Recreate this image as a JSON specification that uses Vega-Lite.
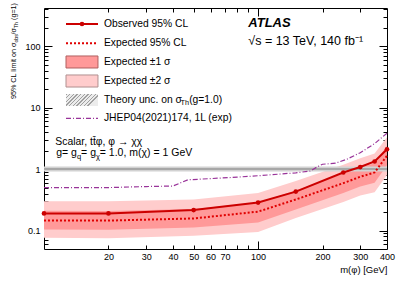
{
  "$schema": "https://vega.github.io/schema/vega-lite/v6.json",
  "width": 343,
  "height": 241,
  "autosize": {"type": "none"},
  "padding": {"left": 44, "top": 8, "right": 12, "bottom": 37},
  "background": "white",
  "datasets": {
    "bands": [
      {"m": 10, "exp": 0.146, "lo1": 0.104, "hi1": 0.209, "lo2": 0.076, "hi2": 0.30},
      {"m": 20, "exp": 0.145, "lo1": 0.103, "hi1": 0.208, "lo2": 0.075, "hi2": 0.30},
      {"m": 50, "exp": 0.157, "lo1": 0.112, "hi1": 0.225, "lo2": 0.082, "hi2": 0.32},
      {"m": 100, "exp": 0.203, "lo1": 0.135, "hi1": 0.285, "lo2": 0.095, "hi2": 0.41},
      {"m": 150, "exp": 0.32, "lo1": 0.22, "hi1": 0.45, "lo2": 0.16, "hi2": 0.64},
      {"m": 250, "exp": 0.59, "lo1": 0.41, "hi1": 0.84, "lo2": 0.29, "hi2": 1.18},
      {"m": 300, "exp": 0.75, "lo1": 0.52, "hi1": 1.06, "lo2": 0.37, "hi2": 1.5},
      {"m": 350, "exp": 0.88, "lo1": 0.6, "hi1": 1.25, "lo2": 0.42, "hi2": 1.8},
      {"m": 400, "exp": 1.65, "lo1": 1.15, "hi1": 2.4, "lo2": 0.8, "hi2": 3.3}
    ],
    "observed": [
      {"m": 10, "v": 0.19}, {"m": 20, "v": 0.19}, {"m": 50, "v": 0.215},
      {"m": 100, "v": 0.285}, {"m": 150, "v": 0.43}, {"m": 250, "v": 0.88},
      {"m": 300, "v": 1.08}, {"m": 350, "v": 1.33}, {"m": 400, "v": 2.1}
    ],
    "jhep": [
      {"m": 10, "v": 0.5}, {"m": 20, "v": 0.5}, {"m": 30, "v": 0.52}, {"m": 40, "v": 0.53},
      {"m": 47, "v": 0.67}, {"m": 60, "v": 0.7}, {"m": 80, "v": 0.74}, {"m": 100, "v": 0.78},
      {"m": 150, "v": 0.87}, {"m": 175, "v": 0.93}, {"m": 190, "v": 1.1}, {"m": 200, "v": 1.2},
      {"m": 230, "v": 1.25}, {"m": 260, "v": 1.45}, {"m": 300, "v": 1.85}, {"m": 350, "v": 2.6},
      {"m": 400, "v": 3.85}
    ],
    "theory": [
      {"m": 10, "lo": 0.91, "hi": 1.1, "c": 1},
      {"m": 400, "lo": 0.91, "hi": 1.1, "c": 1}
    ],
    "one": [{}]
  },
  "resolve": {"axis": {"x": "independent", "y": "independent"}},
  "layer": [
    {
      "data": {"name": "bands"},
      "mark": {"type": "area", "color": "#ffcccc", "opacity": 1},
      "encoding": {
        "x": {"field": "m", "type": "quantitative", "scale": {"type": "log", "domain": [10, 400], "nice": false},
          "axis": {"orient": "bottom", "values": [20, 30, 40, 50, 60, 70, 100, 200, 300, 400], "ticks": false, "domain": false, "grid": false,
            "labelPadding": 3, "labelFlush": false, "labelOverlap": false, "format": "~g",
            "title": "m(φ) [GeV]", "titleAnchor": "end", "titleFont": "Liberation Sans", "titleFontSize": 9.5, "titleFontWeight": "normal", "titleColor": "black", "titlePadding": 3}},
        "y": {"field": "lo2", "type": "quantitative", "scale": {"type": "log", "domain": [0.05, 420], "nice": false},
          "axis": {"orient": "left", "values": [0.1, 1, 10, 100], "ticks": false, "domain": false, "grid": false, "labelPadding": 4, "format": "~g", "labelOverlap": false, "labelFlush": false, "title": null}},
        "y2": {"field": "hi2"}
      }
    },
    {
      "data": {"name": "bands"},
      "mark": {"type": "area", "color": "#ff9999", "opacity": 1},
      "encoding": {
        "x": {"field": "m", "type": "quantitative", "scale": {"type": "log", "domain": [10, 400], "nice": false},
          "axis": {"orient": "bottom", "values": [100], "labels": false, "domain": false, "grid": false, "tickSize": 8, "offset": -8, "title": null}},
        "y": {"field": "lo1", "type": "quantitative", "scale": {"type": "log", "domain": [0.05, 420], "nice": false},
          "axis": {"orient": "left", "values": [0.1, 1, 10, 100], "labels": false, "domain": false, "grid": false, "tickSize": 8, "offset": -8, "title": null}},
        "y2": {"field": "hi1"}
      }
    },
    {
      "data": {"name": "theory"},
      "mark": {"type": "area", "color": "#d2d2d2", "opacity": 1},
      "encoding": {
        "x": {"field": "m", "type": "quantitative", "scale": {"type": "log", "domain": [10, 400], "nice": false},
          "axis": {"orient": "bottom", "values": [20, 30, 40, 50, 60, 70, 80, 90, 200, 300], "labels": false, "domain": false, "grid": false, "tickSize": 4, "offset": -4, "title": null}},
        "y": {"field": "lo", "type": "quantitative", "scale": {"type": "log", "domain": [0.05, 420], "nice": false},
          "axis": {"orient": "left", "values": [0.06, 0.07, 0.08, 0.09, 0.2, 0.3, 0.4, 0.5, 0.6, 0.7, 0.8, 0.9, 2, 3, 4, 5, 6, 7, 8, 9, 20, 30, 40, 50, 60, 70, 80, 90, 200, 300, 400], "labels": false, "domain": false, "grid": false, "tickSize": 4, "offset": -4, "title": null}},
        "y2": {"field": "hi"}
      }
    },
    {
      "data": {"name": "theory"},
      "mark": {"type": "line", "color": "#999999", "strokeWidth": 1.5},
      "encoding": {
        "x": {"field": "m", "type": "quantitative", "scale": {"type": "log", "domain": [10, 400], "nice": false},
          "axis": {"orient": "top", "values": [100], "labels": false, "domain": false, "grid": false, "tickSize": 8, "offset": -8, "title": null}},
        "y": {"field": "c", "type": "quantitative", "scale": {"type": "log", "domain": [0.05, 420], "nice": false},
          "axis": {"orient": "right", "values": [0.1, 1, 10, 100], "labels": false, "domain": false, "grid": false, "tickSize": 8, "offset": -8, "title": null}}
      }
    },
    {
      "data": {"name": "jhep"},
      "mark": {"type": "line", "color": "#993399", "strokeWidth": 1.2, "strokeDash": [5, 2, 1, 2]},
      "encoding": {
        "x": {"field": "m", "type": "quantitative", "scale": {"type": "log", "domain": [10, 400], "nice": false},
          "axis": {"orient": "top", "values": [20, 30, 40, 50, 60, 70, 80, 90, 200, 300], "labels": false, "domain": false, "grid": false, "tickSize": 4, "offset": -4, "title": null}},
        "y": {"field": "v", "type": "quantitative", "scale": {"type": "log", "domain": [0.05, 420], "nice": false},
          "axis": {"orient": "right", "values": [0.06, 0.07, 0.08, 0.09, 0.2, 0.3, 0.4, 0.5, 0.6, 0.7, 0.8, 0.9, 2, 3, 4, 5, 6, 7, 8, 9, 20, 30, 40, 50, 60, 70, 80, 90, 200, 300, 400], "labels": false, "domain": false, "grid": false, "tickSize": 4, "offset": -4, "title": null}}
      }
    },
    {
      "data": {"name": "bands"},
      "mark": {"type": "line", "color": "#e00000", "strokeWidth": 2, "strokeDash": [2, 2]},
      "encoding": {
        "x": {"field": "m", "type": "quantitative", "scale": {"type": "log", "domain": [10, 400], "nice": false}, "axis": null},
        "y": {"field": "exp", "type": "quantitative", "scale": {"type": "log", "domain": [0.05, 420], "nice": false}, "axis": null}
      }
    },
    {
      "data": {"name": "observed"},
      "mark": {"type": "line", "color": "#cc0000", "strokeWidth": 2},
      "encoding": {
        "x": {"field": "m", "type": "quantitative", "scale": {"type": "log", "domain": [10, 400], "nice": false}, "axis": null},
        "y": {"field": "v", "type": "quantitative", "scale": {"type": "log", "domain": [0.05, 420], "nice": false}, "axis": null}
      }
    },
    {
      "data": {"name": "observed"},
      "mark": {"type": "point", "color": "#cc0000", "filled": true, "size": 22, "opacity": 1, "shape": "circle"},
      "encoding": {
        "x": {"field": "m", "type": "quantitative", "scale": {"type": "log", "domain": [10, 400], "nice": false}, "axis": null},
        "y": {"field": "v", "type": "quantitative", "scale": {"type": "log", "domain": [0.05, 420], "nice": false}, "axis": null}
      }
    },
    {
      "data": {"name": "one"},
      "mark": {"type": "rule", "color": "#cc0000", "strokeWidth": 2},
      "encoding": {"x": {"datum": 12.67, "type": "quantitative", "axis": null}, "x2": {"datum": 17.87}, "y": {"datum": 230.5, "type": "quantitative", "axis": null}}
    },
    {
      "data": {"name": "one"},
      "mark": {"type": "point", "color": "#cc0000", "filled": true, "size": 22, "opacity": 1, "shape": "circle"},
      "encoding": {"x": {"datum": 15.05, "type": "quantitative", "axis": null}, "y": {"datum": 230.5, "type": "quantitative", "axis": null}}
    },
    {
      "data": {"name": "one"},
      "mark": {"type": "rule", "color": "#e00000", "strokeWidth": 2, "strokeDash": [2, 2]},
      "encoding": {"x": {"datum": 12.67, "type": "quantitative", "axis": null}, "x2": {"datum": 17.87}, "y": {"datum": 111.8, "type": "quantitative", "axis": null}}
    },
    {
      "data": {"name": "one"},
      "mark": {"type": "rect", "fill": "#ff9999", "stroke": "#b06060", "strokeWidth": 1},
      "encoding": {"x": {"datum": 12.67, "type": "quantitative", "axis": null}, "x2": {"datum": 17.87}, "y": {"datum": 69.5, "type": "quantitative", "axis": null}, "y2": {"datum": 44.3}}
    },
    {
      "data": {"name": "one"},
      "mark": {"type": "rect", "fill": "#ffcccc", "stroke": "#b09090", "strokeWidth": 1},
      "encoding": {"x": {"datum": 12.67, "type": "quantitative", "axis": null}, "x2": {"datum": 17.87}, "y": {"datum": 34.1, "type": "quantitative", "axis": null}, "y2": {"datum": 21.7}}
    },
    {
      "data": {"name": "one"},
      "mark": {"type": "rect", "strokeWidth": 0,
        "fill": {"gradient": "linear", "x1": 0, "y1": 0, "x2": 1, "y2": 0.375,
          "stops": [
            {"offset": 0, "color": "#a0a0a0"}, {"offset": 0.035, "color": "#a0a0a0"}, {"offset": 0.035, "color": "#ececec"}, {"offset": 0.1, "color": "#ececec"},
            {"offset": 0.1, "color": "#a0a0a0"}, {"offset": 0.135, "color": "#a0a0a0"}, {"offset": 0.135, "color": "#ececec"}, {"offset": 0.2, "color": "#ececec"},
            {"offset": 0.2, "color": "#a0a0a0"}, {"offset": 0.235, "color": "#a0a0a0"}, {"offset": 0.235, "color": "#ececec"}, {"offset": 0.3, "color": "#ececec"},
            {"offset": 0.3, "color": "#a0a0a0"}, {"offset": 0.335, "color": "#a0a0a0"}, {"offset": 0.335, "color": "#ececec"}, {"offset": 0.4, "color": "#ececec"},
            {"offset": 0.4, "color": "#a0a0a0"}, {"offset": 0.435, "color": "#a0a0a0"}, {"offset": 0.435, "color": "#ececec"}, {"offset": 0.5, "color": "#ececec"},
            {"offset": 0.5, "color": "#a0a0a0"}, {"offset": 0.535, "color": "#a0a0a0"}, {"offset": 0.535, "color": "#ececec"}, {"offset": 0.6, "color": "#ececec"},
            {"offset": 0.6, "color": "#a0a0a0"}, {"offset": 0.635, "color": "#a0a0a0"}, {"offset": 0.635, "color": "#ececec"}, {"offset": 0.7, "color": "#ececec"},
            {"offset": 0.7, "color": "#a0a0a0"}, {"offset": 0.735, "color": "#a0a0a0"}, {"offset": 0.735, "color": "#ececec"}, {"offset": 0.8, "color": "#ececec"},
            {"offset": 0.8, "color": "#a0a0a0"}, {"offset": 0.835, "color": "#a0a0a0"}, {"offset": 0.835, "color": "#ececec"}, {"offset": 0.9, "color": "#ececec"},
            {"offset": 0.9, "color": "#a0a0a0"}, {"offset": 0.935, "color": "#a0a0a0"}, {"offset": 0.935, "color": "#ececec"}, {"offset": 1, "color": "#ececec"}
          ]}},
      "encoding": {"x": {"datum": 12.67, "type": "quantitative", "axis": null}, "x2": {"datum": 17.87}, "y": {"datum": 16.7, "type": "quantitative", "axis": null}, "y2": {"datum": 10.65}}
    },
    {
      "data": {"name": "one"},
      "mark": {"type": "rule", "color": "#993399", "strokeWidth": 1.2, "strokeDash": [5, 2, 1, 2]},
      "encoding": {"x": {"datum": 12.67, "type": "quantitative", "axis": null}, "x2": {"datum": 17.87}, "y": {"datum": 6.72, "type": "quantitative", "axis": null}}
    },
    {
      "data": {"name": "one"},
      "mark": {"type": "text", "text": "Observed 95% CL", "fontSize": 10.3, "align": "left", "baseline": "middle", "color": "black"},
      "encoding": {"x": {"datum": 19.06, "type": "quantitative", "axis": null}, "y": {"datum": 230.5, "type": "quantitative", "axis": null}}
    },
    {
      "data": {"name": "one"},
      "mark": {"type": "text", "text": "Expected 95% CL", "fontSize": 10.3, "align": "left", "baseline": "middle", "color": "black"},
      "encoding": {"x": {"datum": 19.06, "type": "quantitative", "axis": null}, "y": {"datum": 111.8, "type": "quantitative", "axis": null}}
    },
    {
      "data": {"name": "one"},
      "mark": {"type": "text", "text": "Expected ±1 σ", "fontSize": 10.3, "align": "left", "baseline": "middle", "color": "black"},
      "encoding": {"x": {"datum": 19.06, "type": "quantitative", "axis": null}, "y": {"datum": 55.4, "type": "quantitative", "axis": null}}
    },
    {
      "data": {"name": "one"},
      "mark": {"type": "text", "text": "Expected ±2 σ", "fontSize": 10.3, "align": "left", "baseline": "middle", "color": "black"},
      "encoding": {"x": {"datum": 19.06, "type": "quantitative", "axis": null}, "y": {"datum": 27.2, "type": "quantitative", "axis": null}}
    },
    {
      "data": {"name": "one"},
      "mark": {"type": "text", "text": "Theory unc. on σ", "fontSize": 10.3, "align": "left", "baseline": "middle", "color": "black"},
      "encoding": {"x": {"datum": 19.06, "type": "quantitative", "axis": null}, "y": {"datum": 13.34, "type": "quantitative", "axis": null}}
    },
    {
      "data": {"name": "one"},
      "mark": {"type": "text", "text": "Th", "fontSize": 7.3, "align": "left", "baseline": "middle", "color": "black", "dx": 76.5, "dy": 3},
      "encoding": {"x": {"datum": 19.06, "type": "quantitative", "axis": null}, "y": {"datum": 13.34, "type": "quantitative", "axis": null}}
    },
    {
      "data": {"name": "one"},
      "mark": {"type": "text", "text": "(g=1.0)", "fontSize": 10.3, "align": "left", "baseline": "middle", "color": "black", "dx": 85.2},
      "encoding": {"x": {"datum": 19.06, "type": "quantitative", "axis": null}, "y": {"datum": 13.34, "type": "quantitative", "axis": null}}
    },
    {
      "data": {"name": "one"},
      "mark": {"type": "text", "text": "JHEP04(2021)174, 1L (exp)", "fontSize": 10.3, "align": "left", "baseline": "middle", "color": "black"},
      "encoding": {"x": {"datum": 19.06, "type": "quantitative", "axis": null}, "y": {"datum": 6.72, "type": "quantitative", "axis": null}}
    },
    {
      "data": {"name": "one"},
      "mark": {"type": "text", "text": "ATLAS", "fontSize": 13, "fontWeight": "bold", "fontStyle": "italic", "align": "left", "baseline": "alphabetic", "color": "black"},
      "encoding": {"x": {"datum": 90, "type": "quantitative", "axis": null}, "y": {"datum": 203, "type": "quantitative", "axis": null}}
    },
    {
      "data": {"name": "one"},
      "mark": {"type": "text", "text": "√s = 13 TeV, 140 fb⁻¹", "fontSize": 12.5, "align": "left", "baseline": "alphabetic", "color": "black"},
      "encoding": {"x": {"datum": 90, "type": "quantitative", "axis": null}, "y": {"datum": 103.5, "type": "quantitative", "axis": null}}
    },
    {
      "data": {"name": "one"},
      "mark": {"type": "text", "text": "Scalar, tt̄φ, φ → χχ", "fontSize": 10.4, "align": "left", "baseline": "alphabetic", "color": "black"},
      "encoding": {"x": {"datum": 11.3, "type": "quantitative", "axis": null}, "y": {"datum": 2.46, "type": "quantitative", "axis": null}}
    },
    {
      "data": {"name": "one"},
      "mark": {"type": "text", "text": "g= g", "fontSize": 10.5, "align": "left", "baseline": "alphabetic", "color": "black"},
      "encoding": {"x": {"datum": 11.4, "type": "quantitative", "axis": null}, "y": {"datum": 1.63, "type": "quantitative", "axis": null}}
    },
    {
      "data": {"name": "one"},
      "mark": {"type": "text", "text": "q", "fontSize": 7.5, "align": "left", "baseline": "alphabetic", "color": "black", "dx": 20.7, "dy": 2.5},
      "encoding": {"x": {"datum": 11.4, "type": "quantitative", "axis": null}, "y": {"datum": 1.63, "type": "quantitative", "axis": null}}
    },
    {
      "data": {"name": "one"},
      "mark": {"type": "text", "text": "= g", "fontSize": 10.5, "align": "left", "baseline": "alphabetic", "color": "black", "dx": 24.9},
      "encoding": {"x": {"datum": 11.4, "type": "quantitative", "axis": null}, "y": {"datum": 1.63, "type": "quantitative", "axis": null}}
    },
    {
      "data": {"name": "one"},
      "mark": {"type": "text", "text": "χ", "fontSize": 7.5, "align": "left", "baseline": "alphabetic", "color": "black", "dx": 39.8, "dy": 2.5},
      "encoding": {"x": {"datum": 11.4, "type": "quantitative", "axis": null}, "y": {"datum": 1.63, "type": "quantitative", "axis": null}}
    },
    {
      "data": {"name": "one"},
      "mark": {"type": "text", "text": "= 1.0, m(χ) = 1 GeV", "fontSize": 10.5, "align": "left", "baseline": "alphabetic", "color": "black", "dx": 43.6},
      "encoding": {"x": {"datum": 11.4, "type": "quantitative", "axis": null}, "y": {"datum": 1.63, "type": "quantitative", "axis": null}}
    },
    {
      "data": {"name": "one"},
      "mark": {"type": "text", "text": "(g=1)", "fontSize": 7.2, "angle": 270, "align": "right", "baseline": "alphabetic", "color": "black", "dx": 5, "dy": -28},
      "encoding": {"x": {"datum": 10, "type": "quantitative", "axis": null}, "y": {"datum": 420, "type": "quantitative", "axis": null}}
    },
    {
      "data": {"name": "one"},
      "mark": {"type": "text", "text": "Th", "fontSize": 5.2, "angle": 270, "align": "right", "baseline": "alphabetic", "color": "black", "dx": -14, "dy": -26},
      "encoding": {"x": {"datum": 10, "type": "quantitative", "axis": null}, "y": {"datum": 420, "type": "quantitative", "axis": null}}
    },
    {
      "data": {"name": "one"},
      "mark": {"type": "text", "text": "/σ", "fontSize": 7.2, "angle": 270, "align": "right", "baseline": "alphabetic", "color": "black", "dx": -20.1, "dy": -28},
      "encoding": {"x": {"datum": 10, "type": "quantitative", "axis": null}, "y": {"datum": 420, "type": "quantitative", "axis": null}}
    },
    {
      "data": {"name": "one"},
      "mark": {"type": "text", "text": "obs", "fontSize": 5.2, "angle": 270, "align": "right", "baseline": "alphabetic", "color": "black", "dx": -26.2, "dy": -26},
      "encoding": {"x": {"datum": 10, "type": "quantitative", "axis": null}, "y": {"datum": 420, "type": "quantitative", "axis": null}}
    },
    {
      "data": {"name": "one"},
      "mark": {"type": "text", "text": "95% CL limit on σ", "fontSize": 7.2, "angle": 270, "align": "right", "baseline": "alphabetic", "color": "black", "dx": -34.6, "dy": -28},
      "encoding": {"x": {"datum": 10, "type": "quantitative", "axis": null}, "y": {"datum": 420, "type": "quantitative", "axis": null}}
    }
  ],
  "config": {
    "view": {"stroke": "black", "strokeWidth": 1},
    "axis": {"labelFont": "Liberation Sans", "labelFontSize": 9, "labelColor": "black", "tickColor": "black", "tickWidth": 1, "grid": false, "domain": false},
    "text": {"font": "Liberation Sans"}
  }
}
